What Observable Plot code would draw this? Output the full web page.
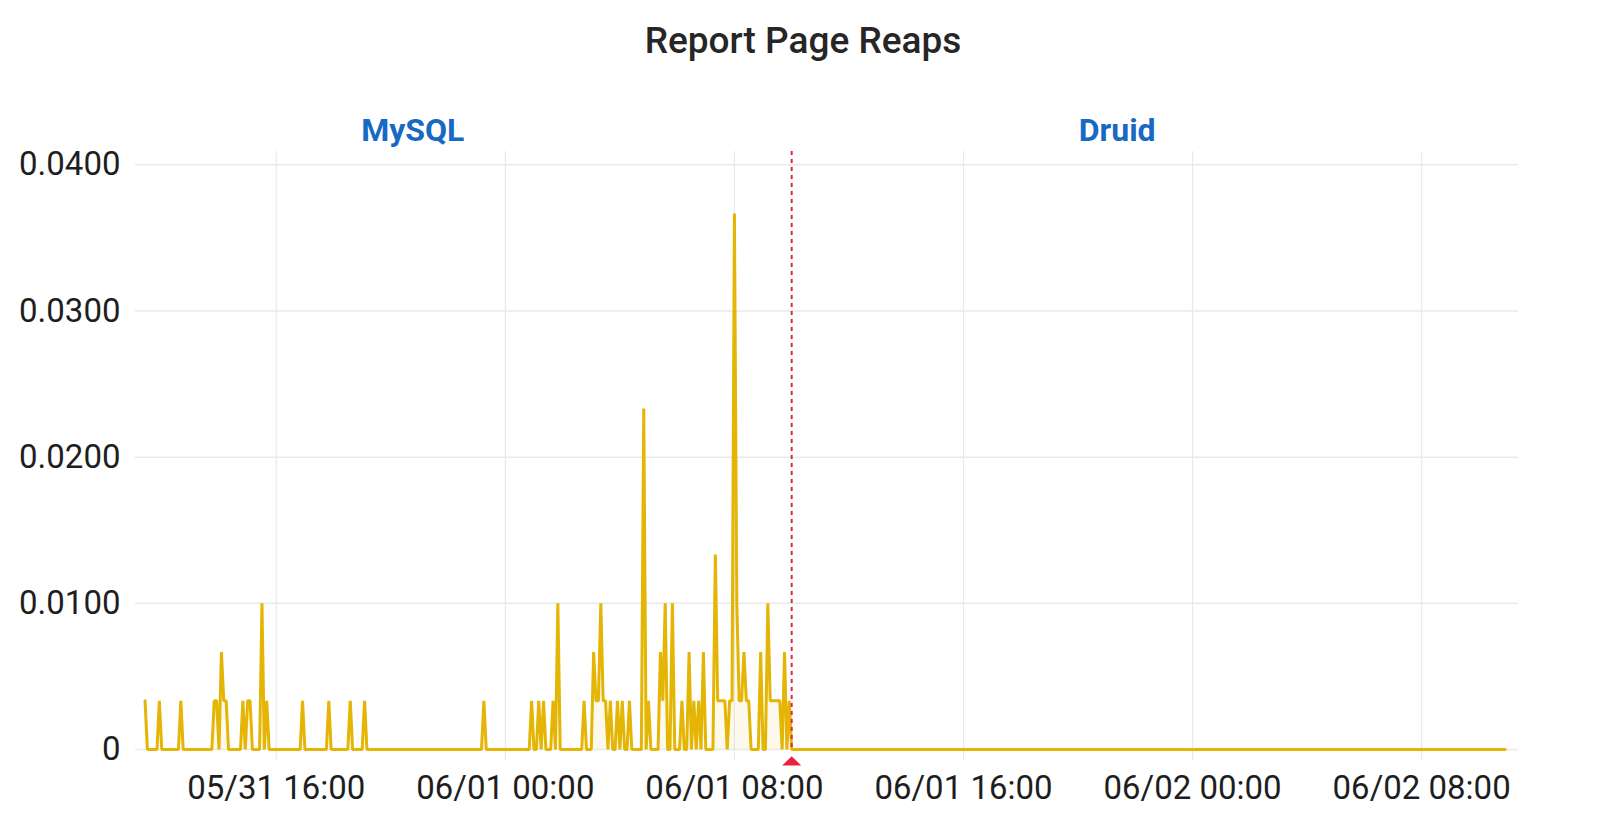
<!DOCTYPE html>
<html>
<head>
<meta charset="utf-8">
<script src="https://cdn.jsdelivr.net/npm/d3@7"></script>
<script src="https://cdn.jsdelivr.net/npm/@observablehq/plot@0.6"></script>
<style>
html, body { margin: 0; padding: 0; background: #fff; }
body { width: 1600px; height: 813px; overflow: hidden; font-family: Roboto, sans-serif; }
#title { height: 84px; line-height: 82px; text-align: center; font-size: 37px; font-weight: 500; color: #262626; padding-left: 6px; }
#chart svg { display: block; }
</style>
</head>
<body>
<div id="title"></div>
<div id="chart"></div>
<script>
// ---------- data ----------
const chartTitle = "Report Page Reaps";
const panelLabels = ["MySQL", "Druid"];

// MySQL period: reaps counted per 5-minute sample, starting 05/31 11:25
const mysqlStart = "2021-05-31T11:25";
const sampleMinutes = 5;
const mysqlReapsPer5Min = [
  1,0,0,0,0,0,1,0,0,0,0,0,
  0,0,0,1,0,0,0,0,0,0,0,0,
  0,0,0,0,0,1,1,0,2,1,1,0,
  0,0,0,0,0,1,0,1,1,0,0,0,
  0,3,0,1,0,0,0,0,0,0,0,0,
  0,0,0,0,0,0,1,0,0,0,0,0,
  0,0,0,0,0,1,0,0,0,0,0,0,
  0,0,1,0,0,0,0,0,1,0,0,0,
  0,0,0,0,0,0,0,0,0,0,0,0,
  0,0,0,0,0,0,0,0,0,0,0,0,
  0,0,0,0,0,0,0,0,0,0,0,0,
  0,0,0,0,0,0,0,0,0,0,1,0,
  0,0,0,0,0,0,0,0,0,0,0,0,
  0,0,0,0,0,0,1,0,0,1,0,1,
  0,0,0,1,0,3,0,0,0,0,0,0,
  0,0,0,0,1,0,0,0,2,1,1,3,
  1,1,0,1,0,0,1,0,1,0,0,1,
  0,0,0,0,0,7,0,1,0,0,0,0,
  2,1,3,0,0,3,0,0,0,1,0,0,
  2,0,1,0,1,0,2,0,0,0,0,4,
  1,1,1,1,0,1,1,11,3,1,1,2,
  1,1,0,0,0,0,2,0,0,3,1,1,
  1,1,1,0,2,0,1
];

// Druid period: flat zero from the switch to the end of the range
const druidTimes = ["2021-06-01T10:00", "2021-06-02T10:55"];
const druidReapsPerSec = [0, 0];

const switchTime = "2021-06-01T10:00";
const yTicks = [0, 0.01, 0.02, 0.03, 0.04];
const xTicks = ["2021-05-31T16:00", "2021-06-01T00:00", "2021-06-01T08:00",
                "2021-06-01T16:00", "2021-06-02T00:00", "2021-06-02T08:00"];
const xDomain = ["2021-05-31T11:05", "2021-06-02T11:23"];
const yDomain = [-0.00075, 0.04091];

// ---------- build ----------
document.getElementById("title").textContent = chartTitle;

const t0 = new Date(mysqlStart).getTime();
const series = mysqlReapsPer5Min.map((c, i) => ({
  time: new Date(t0 + i * sampleMinutes * 60000),
  value: c / (sampleMinutes * 60)
})).concat(druidTimes.map((t, i) => ({ time: new Date(t), value: druidReapsPerSec[i] })));

const labelAnchors = [
  { label: panelLabels[0], time: new Date("2021-05-31T20:46") },
  { label: panelLabels[1], time: new Date("2021-06-01T21:22") }
];

const switchDate = new Date(switchTime);
const xTickDates = xTicks.map(d => new Date(d));
const fmtX = d3.timeFormat("%m/%d %H:%M");
const fmtY = d => d === 0 ? "0" : d.toFixed(4);

const flatTriangle = {
  draw(ctx) {
    ctx.moveTo(0, -4.8);
    ctx.lineTo(9.5, 4.5);
    ctx.lineTo(-9.5, 4.5);
    ctx.closePath();
  }
};

const lineColor = "#e4b504";
const red = "#e8213f";

const plot = Plot.plot({
  width: 1600,
  height: 729,
  marginLeft: 135,
  marginRight: 82,
  marginTop: 67,
  marginBottom: 53,
  style: { fontFamily: "Roboto, sans-serif", fontSize: "33px", color: "#1e1e1e", background: "#fff", overflow: "visible" },
  x: {
    type: "time",
    domain: xDomain.map(d => new Date(d)),
    ticks: xTickDates,
    tickFormat: fmtX,
    tickSize: 0,
    tickPadding: 15,
    label: null
  },
  y: {
    domain: yDomain,
    ticks: yTicks,
    tickFormat: fmtY,
    tickSize: 0,
    tickPadding: 15,
    label: null
  },
  marks: [
    Plot.ruleX(xTickDates, { stroke: "#e9e9e9", strokeWidth: 1.2 }),
    Plot.ruleY(yTicks, { stroke: "#e9e9e9", strokeWidth: 1.5 }),
    Plot.areaY(series, { x: "time", y: "value", fill: lineColor, fillOpacity: 0.07, curve: "linear" }),
    Plot.lineY(series, { x: "time", y: "value", stroke: lineColor, strokeWidth: 3, strokeLinejoin: "miter", curve: "linear" }),
    Plot.ruleX([switchDate], { stroke: red, strokeWidth: 2, strokeDasharray: "4,4", insetBottom: 11 }),
    Plot.dot([switchDate], { x: d => d, frameAnchor: "bottom", symbol: flatTriangle, fill: red, stroke: null, dy: 0.5 }),
    Plot.text(labelAnchors, { x: "time", text: "label", frameAnchor: "top", dy: -33, fill: "#1769c4", fontSize: 32, fontWeight: 700 })
  ]
});

document.getElementById("chart").appendChild(plot);
</script>
</body>
</html>
